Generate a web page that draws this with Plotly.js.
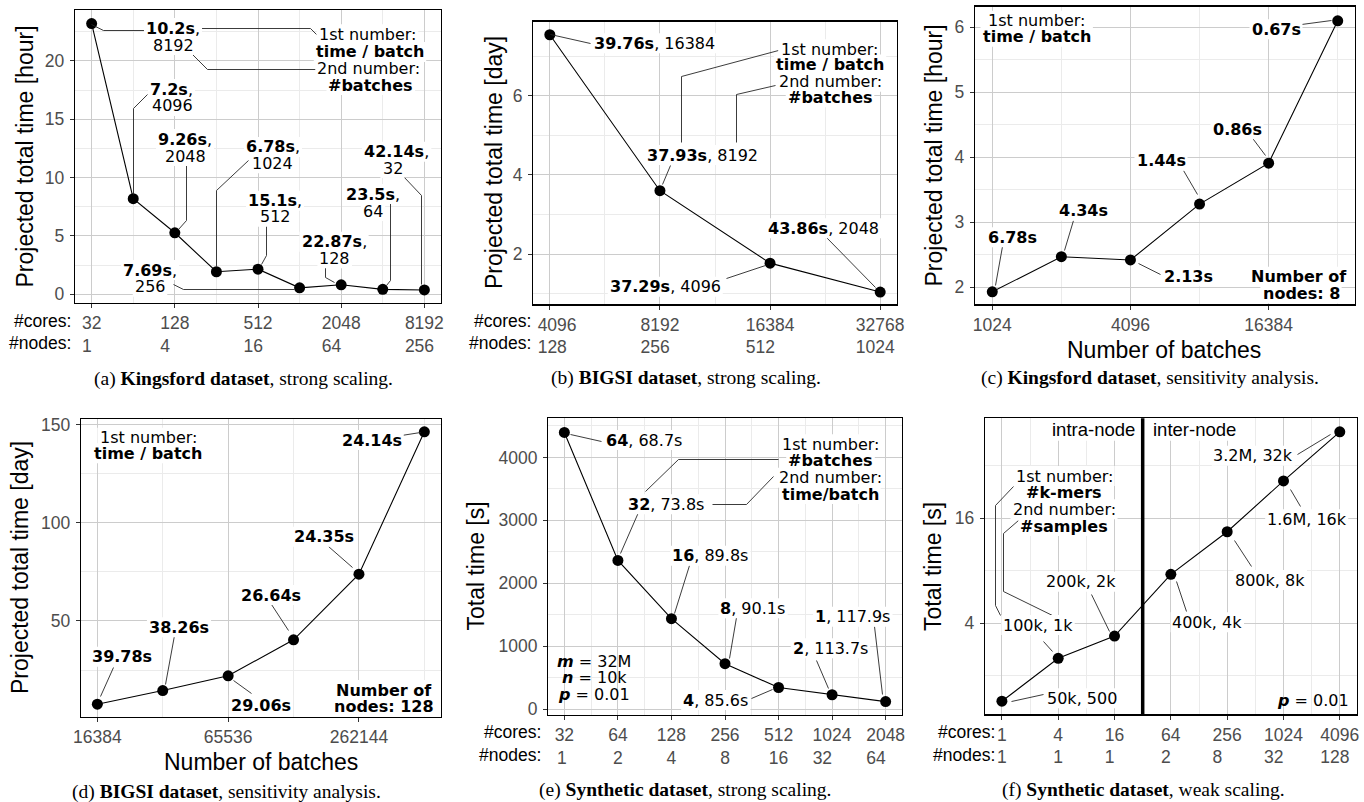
<!DOCTYPE html>
<html><head><meta charset="utf-8">
<script src="https://cdn.plot.ly/plotly-3.0.1.min.js"></script>
<style>body{margin:0;background:#fff}#chart{width:1364px;height:802px}</style>
</head><body><div id="chart"></div>
<script>
// ================= DATA =================
// (a) Kingsford dataset, strong scaling
const aCores = [32, 64, 128, 256, 512, 1024, 2048, 4096, 8192];
const aTotalHours = [23.21, 8.19, 5.27, 1.93, 2.15, 0.55, 0.81, 0.42, 0.37];
const aTimePerBatch = ['10.2s', '7.2s', '9.26s', '6.78s', '15.1s', '7.69s', '22.87s', '23.5s', '42.14s'];
const aBatches = ['8192', '4096', '2048', '1024', '512', '256', '128', '64', '32'];
const aTickCores = [32, 128, 512, 2048, 8192];
const aTickNodes = [1, 4, 16, 64, 256];

// (b) BIGSI dataset, strong scaling
const bCores = [4096, 8192, 16384, 32768];
const bTotalDays = [7.54, 3.60, 1.77, 1.04];
const bTimePerBatch = ['39.76s', '37.93s', '37.29s', '43.86s'];
const bBatches = ['16384', '8192', '4096', '2048'];
const bTickCores = [4096, 8192, 16384, 32768];
const bTickNodes = [128, 256, 512, 1024];

// (c) Kingsford dataset, sensitivity analysis
const cBatches = [1024, 2048, 4096, 8192, 16384, 32768];
const cTotalHours = [1.93, 2.47, 2.42, 3.28, 3.91, 6.10];
const cTimePerBatch = ['6.78s', '4.34s', '2.13s', '1.44s', '0.86s', '0.67s'];
const cTickBatches = [1024, 4096, 16384];
const cNodes = 8;

// (d) BIGSI dataset, sensitivity analysis
const dBatches = [16384, 32768, 65536, 131072, 262144, 524288];
const dTotalDays = [7.54, 14.51, 22.04, 40.41, 73.88, 146.5];
const dTimePerBatch = ['39.78s', '38.26s', '29.06s', '26.64s', '24.35s', '24.14s'];
const dTickBatches = [16384, 65536, 262144];
const dNodes = 128;

// (e) Synthetic dataset, strong scaling
const eCores = [32, 64, 128, 256, 512, 1024, 2048];
const eNodes = [1, 2, 4, 8, 16, 32, 64];
const eTotalSeconds = [4397, 2362, 1437, 721, 342, 227, 118];
const eBatches = ['64', '32', '16', '8', '4', '2', '1'];
const eTimePerBatch = ['68.7s', '73.8s', '89.8s', '90.1s', '85.6s', '113.7s', '117.9s'];
const eParams = [['m', '32M'], ['n', '10k'], ['p', '0.01']];

// (f) Synthetic dataset, weak scaling
const fCores = [1, 4, 16, 64, 256, 1024, 4096];
const fNodes = [1, 1, 1, 2, 8, 32, 128];
const fTotalSeconds = [1.43, 2.52, 3.38, 7.64, 13.4, 26.2, 50.1];
const fKmers = ['50k', '100k', '200k', '400k', '800k', '1.6M', '3.2M'];
const fSamples = ['500', '1k', '2k', '4k', '8k', '16k', '32k'];
const fTickSeconds = [4, 16];
const fMinorSeconds = [2, 8, 32];
const fIntraInterBoundaryCores = 32;
const fP = '0.01';

// ================= LAYOUT HELPERS =================
const W = 1364, H = 802, L2 = Math.log10(2);
const PX = x => x / W, PY = y => 1 - y / H;
const annotations = [], leaders = [], boxes = [];
const GRID = '#CCCCCC', MINOR = '#EBEBEB';
const SANS = 'Liberation Sans, Arial, sans-serif';
const DEJA = 'DejaVu Sans';
const SERIF = 'Liberation Serif, Times New Roman, serif';
const TICKFONT = {family: SANS, size: 17.5, color: '#4D4D4D'};

const ctx = document.createElement('canvas').getContext('2d');
function measure(html, size, fam) {
  const re = /<b>(<i>)?(.*?)(?:<\/i>)?<\/b>|([^<]+)/g;
  let m, w = 0;
  while ((m = re.exec(html)) !== null) {
    if (m[3] !== undefined) { ctx.font = size + 'px "' + fam + '"'; w += ctx.measureText(m[3]).width; }
    else { ctx.font = (m[1] ? 'italic ' : '') + 'bold ' + size + 'px "' + fam + '"'; w += ctx.measureText(m[2]).width; }
  }
  return w;
}
function txt(x, y, t, o = {}) {
  const size = o.size || 16, fam = o.fam || DEJA;
  annotations.push({xref: 'paper', yref: 'paper', x: PX(x), y: PY(y), text: t, showarrow: false,
    xanchor: o.xa || 'center', yanchor: 'middle', textangle: o.angle || 0, borderpad: 0,
    font: {family: fam, size: size, color: o.color || '#000'}});
  if (!o.nobg) {
    const w = measure(t, size, fam) + 4, h = size * 1.12 + 2;
    boxes.push({type: 'rect', xref: 'paper', yref: 'paper', layer: 'above',
      x0: PX(x - w / 2), x1: PX(x + w / 2), y0: PY(y + h / 2), y1: PY(y - h / 2),
      fillcolor: '#FFFFFF', line: {width: 0}});
  }
}
const snap = v => Math.floor(v) + 0.5;
function leader(pts) {
  leaders.push({type: 'path', xref: 'paper', yref: 'paper', layer: 'above',
    path: 'M' + pts.map(p => PX(snap(p[0])) + ',' + PY(snap(p[1]))).join('L'),
    line: {color: '#262626', width: 0.9}});
}

const BOX = {
  a: [75, 10, 441, 303], b: [533.3, 21.7, 896.7, 304.3], c: [975, 6.7, 1355, 304.3],
  d: [81, 419.3, 440.7, 717], e: [548.3, 418.3, 901.7, 715], f: [985, 418.3, 1356.7, 714.3]
};
const domX = b => [b[0] / W, b[2] / W];
const domY = b => [1 - b[3] / H, 1 - b[1] / H];

function axis(dom, anchor, opts, isX) {
  return Object.assign({domain: dom, anchor: anchor, showline: true, mirror: true, linecolor: '#000',
    linewidth: 1.3, ticks: 'outside', ticklen: 4, tickwidth: 1, tickcolor: '#333', tickfont: TICKFONT,
    showgrid: true, gridcolor: GRID, gridwidth: 1, zeroline: false, fixedrange: true, tickmode: 'array',
    ticklabelstandoff: isX ? 0 : 2}, opts);
}
const minor = vals => ({tickmode: 'array', tickvals: vals, showgrid: true, gridcolor: MINOR, gridwidth: 1, ticks: ''});
const pow2 = (a, b) => { const r = []; for (let k = a; k <= b; k++) r.push(Math.pow(2, k + 0.5)); return r; };
// two-line tick labels (#cores over #nodes); trailing no-break spaces left-align the node line as in the reference
const NBSP = '\u00A0';
const twoLine = (c, n, pad, pre) => c.map((v, i) =>
  (pre && pre[i] ? NBSP.repeat(pre[i]) : '') + v + '<br>' +
  (pre && pre[i] ? NBSP.repeat(pre[i]) : '') + n[i] + NBSP.repeat(pad ? pad[i] : 0));

// ================= TRACES =================
function series(x, y, xa, ya) {
  return {x: x, y: y, xaxis: xa, yaxis: ya, type: 'scatter', mode: 'lines+markers',
    line: {color: '#000', width: 1.1}, marker: {color: '#000', size: 11},
    hoverinfo: 'skip', showlegend: false, cliponaxis: false};
}
const fYRange = [0.267 * L2, 5.905 * L2];
const traces = [
  series(aCores, aTotalHours, 'x', 'y'),
  series(bCores, bTotalDays, 'x2', 'y2'),
  series(cBatches, cTotalHours, 'x3', 'y3'),
  series(dBatches, dTotalDays, 'x4', 'y4'),
  series(eCores, eTotalSeconds, 'x5', 'y5'),
  {x: [fIntraInterBoundaryCores, fIntraInterBoundaryCores], y: [Math.pow(10, fYRange[0]) * 0.8, Math.pow(10, fYRange[1]) * 1.2],
   xaxis: 'x6', yaxis: 'y6', type: 'scatter', mode: 'lines', line: {color: '#000', width: 3.5},
   hoverinfo: 'skip', showlegend: false},
  series(fCores, fTotalSeconds, 'x6', 'y6')
];

// ================= AXES =================
const layout = {
  width: W, height: H, autosize: false, margin: {l: 0, r: 0, t: 0, b: 0},
  paper_bgcolor: '#FFFFFF', plot_bgcolor: '#FFFFFF', showlegend: false,
  xaxis: axis(domX(BOX.a), 'y', {type: 'log', range: [4.6 * L2, 13.4 * L2], tickvals: aTickCores,
    ticktext: twoLine(aTickCores, aTickNodes, [2, 4, 2, 4, 2]), minor: minor([64, 256, 1024, 4096])}, true),
  yaxis: axis(domY(BOX.a), 'x', {range: [-0.75, 24.37], tickvals: [0, 5, 10, 15, 20], minor: minor([2.5, 7.5, 12.5, 17.5, 22.5])}),
  xaxis2: axis(domX(BOX.b), 'y2', {type: 'log', range: [11.85 * L2, 15.15 * L2], tickvals: bTickCores,
    ticktext: twoLine(bTickCores, bTickNodes, [2, 2, 4, 2], [3, 0, 0, 0]), minor: minor(pow2(12, 14))}, true),
  yaxis2: axis(domY(BOX.b), 'x2', {range: [0.73, 7.87], tickvals: [2, 4, 6], minor: minor([1, 3, 5, 7])}),
  xaxis3: axis(domX(BOX.c), 'y3', {type: 'log', range: [9.75 * L2, 15.25 * L2], tickvals: cTickBatches, ticktext: cTickBatches.map(String), minor: minor([2048, 8192, 32768])}, true),
  yaxis3: axis(domY(BOX.c), 'x3', {range: [1.738, 6.317], tickvals: [2, 3, 4, 5, 6], minor: minor([2.5, 3.5, 4.5, 5.5])}),
  xaxis4: axis(domX(BOX.d), 'y4', {type: 'log', range: [13.75 * L2, 19.25 * L2], tickvals: dTickBatches, ticktext: dTickBatches.map(String), minor: minor([32768, 131072, 524288])}, true),
  yaxis4: axis(domY(BOX.d), 'x4', {range: [1.02, 152.9], tickvals: [50, 100, 150], minor: minor([25, 75, 125])}),
  xaxis5: axis(domX(BOX.e), 'y5', {type: 'log', range: [4.7 * L2, 11.3 * L2], tickvals: eCores,
    ticktext: twoLine(eCores, eNodes, [1, 0, 0, 0, 0, 4, 4]), minor: minor(pow2(5, 10))}, true),
  yaxis5: axis(domY(BOX.e), 'x5', {range: [-95, 4622], tickvals: [0, 1000, 2000, 3000, 4000], minor: minor([500, 1500, 2500, 3500, 4500])}),
  xaxis6: axis(domX(BOX.f), 'y6', {type: 'log', range: [-0.6 * L2, 12.6 * L2], tickvals: fCores,
    ticktext: twoLine(fCores, fNodes, [0, 0, 2, 2, 4, 4, 2]), minor: minor([2, 8, 32, 128, 512, 2048])}, true),
  yaxis6: axis(domY(BOX.f), 'x6', {type: 'log', range: fYRange, tickvals: fTickSeconds, ticktext: fTickSeconds.map(String), minor: minor(fMinorSeconds)}),
};

// ================= TEXT: axis titles, captions, core/node headers =================
const TT = {fam: SANS, size: 23, nobg: true};
txt(25, 156.5, 'Projected total time [hour]', Object.assign({angle: -90}, TT));
txt(494, 163, 'Projected total time [day]', Object.assign({angle: -90}, TT));
txt(933, 155.5, 'Projected total time [hour]', Object.assign({angle: -90}, TT));
txt(20, 568, 'Projected total time [day]', Object.assign({angle: -90}, TT));
txt(475, 566.5, 'Total time [s]', Object.assign({angle: -90}, TT));
txt(933, 566, 'Total time [s]', Object.assign({angle: -90}, TT));
txt(1164, 350, 'Number of batches', TT);
txt(260.8, 761.7, 'Number of batches', TT);

const CAP = {fam: SERIF, size: 19.5, nobg: true};
txt(243.3, 379, '(a) <b>Kingsford dataset</b>, strong scaling.', CAP);
txt(685.8, 378.3, '(b) <b>BIGSI dataset</b>, strong scaling.', CAP);
txt(1150, 378.3, '(c) <b>Kingsford dataset</b>, sensitivity analysis.', CAP);
txt(226.7, 791.7, '(d) <b>BIGSI dataset</b>, sensitivity analysis.', CAP);
txt(685, 790, '(e) <b>Synthetic dataset</b>, strong scaling.', CAP);
txt(1143.3, 790, '(f) <b>Synthetic dataset</b>, weak scaling.', CAP);

const HDR = {fam: SANS, size: 17.5, nobg: true, xa: 'right'};
[[72, 321, 343.5], [531.7, 321, 343.5], [541.7, 732, 754.5], [996, 732, 754.5]].forEach(p => {
  txt(p[0], p[1], '#cores:', HDR); txt(p[0], p[2], '#nodes:', HDR);
});

// ================= PANEL (a) labels =================
const aLab = [[173, 28, 173, 45], [171.5, 89, 172, 106], [185, 139, 185.5, 156], [273, 147, 272.5, 163.3],
  [275, 200.7, 275, 216.7], [150, 270, 150, 286.7], [334, 241.7, 334.7, 258.3], [373, 194, 373, 211], [396.7, 151.7, 392.5, 168]];
aLab.forEach((p, i) => { txt(p[0], p[1], '<b>' + aTimePerBatch[i] + '</b>,'); txt(p[2], p[3], aBatches[i]); });
txt(367.5, 34.3, '1st number:'); txt(370, 52, '<b>time / batch</b>');
txt(368.8, 68.3, '2nd number:'); txt(370.8, 85, '<b>#batches</b>');
[
  [[91.7, 24], [103, 30.7], [146, 30.7]],
  [[200, 28.3], [310, 28.3], [316, 34]],
  [[191, 53], [207, 69], [316, 69]],
  [[133.3, 194], [133.3, 108], [147, 94]],
  [[186.7, 160], [186.7, 220], [178, 229]],
  [[248, 160], [216.7, 190], [216.7, 266]],
  [[266.7, 222], [266.7, 255], [261.7, 264]],
  [[173.3, 284.3], [183.3, 289.3], [294, 289.3]],
  [[325, 262], [325, 277.3], [334.3, 282.7]],
  [[390.7, 203], [390.7, 280], [386, 285]],
  [[403, 176], [421.7, 195], [421.7, 284]]
].forEach(l => leader(l));

// ================= PANEL (b) labels =================
const bLab = [[654, 43.3], [702, 155], [665.3, 286.7], [823.5, 228.3]];
bLab.forEach((p, i) => txt(p[0], p[1], '<b>' + bTimePerBatch[i] + '</b>, ' + bBatches[i]));
txt(829, 49.3, '1st number:'); txt(830, 64.5, '<b>time / batch</b>');
txt(830, 81.7, '2nd number:'); txt(830, 97.3, '<b>#batches</b>');
[
  [[550, 34.3], [590, 43]],
  [[778.3, 50.7], [681.7, 76], [681.7, 142]],
  [[775, 85], [736.7, 94.3], [736.7, 142]],
  [[670, 165], [662.7, 184]],
  [[826.7, 237.3], [875, 287]],
  [[726.7, 278.3], [765, 265]]
].forEach(l => leader(l));

// ================= PANEL (c) labels =================
const cLab = [[1012.5, 237.3], [1083, 210.7], [1188, 276], [1161, 160.7], [1237, 129.3], [1276, 29.3]];
cLab.forEach((p, i) => txt(p[0], p[1], '<b>' + cTimePerBatch[i] + '</b>'));
txt(1036.7, 20.7, '1st number:'); txt(1036.7, 36.7, '<b>time / batch</b>');
txt(1299, 276.7, '<b>Number of</b>'); txt(1301, 293.3, '<b>nodes: ' + cNodes + '</b>');
[
  [[1301.7, 24], [1331.7, 20.7]],
  [[1250, 135], [1265, 155]],
  [[1183.3, 170], [1197.3, 194]],
  [[1073.3, 220.7], [1064, 250]],
  [[1002.3, 246], [995, 285]],
  [[1138.3, 263.3], [1160, 274]]
].forEach(l => leader(l));

// ================= PANEL (d) labels =================
const dLab = [[122.3, 656.7], [179, 627.3], [261, 705], [270.5, 595], [323.8, 536.7], [371.7, 440]];
dLab.forEach((p, i) => txt(p[0], p[1], '<b>' + dTimePerBatch[i] + '</b>'));
txt(148, 437.7, '1st number:'); txt(148, 453.3, '<b>time / batch</b>');
txt(384.3, 690, '<b>Number of</b>'); txt(384, 706.7, '<b>nodes: ' + dNodes + '</b>');
[
  [[401.7, 435.7], [420.7, 432.3]],
  [[328.3, 546.7], [352.7, 567.7]],
  [[271.7, 604.3], [288.3, 630]],
  [[174, 635.7], [165.7, 684.3]],
  [[113.3, 667.7], [100.7, 696.7]],
  [[233.3, 680], [251.7, 693.3]]
].forEach(l => leader(l));

// ================= PANEL (e) labels =================
const eLab = [[644, 440], [666.3, 504.3], [710.3, 555.7], [753, 608.3], [715.8, 700], [830.5, 648.3], [852.8, 616.7]];
eLab.forEach((p, i) => txt(p[0], p[1], '<b>' + eBatches[i] + '</b>, ' + eTimePerBatch[i]));
txt(830, 444.3, '1st number:'); txt(830.5, 460.7, '<b>#batches</b>');
txt(830, 477.7, '2nd number:'); txt(830, 494, '<b>time/batch</b>');
[[594, 661.7], [594, 677.7], [594, 694.3]].forEach((p, i) =>
  txt(p[0], p[1], '<b><i>' + eParams[i][0] + '</i></b> = ' + eParams[i][1], {nobg: true}));
[
  [[570.7, 434.3], [601.7, 441.7]],
  [[778.3, 459], [678.3, 459], [645, 491.7]],
  [[773.3, 476.7], [746, 504.3], [712.7, 504.3]],
  [[641.7, 505], [620.7, 553.3]],
  [[689.3, 565], [674, 613.3]],
  [[736.7, 617.7], [729.3, 658.3]],
  [[874, 626.7], [882.7, 694.3]],
  [[816, 660], [828.3, 688.3]],
  [[751.7, 698.3], [772.7, 689]]
].forEach(l => leader(l));

// ================= PANEL (f) labels =================
const fLab = [[1081.7, 698.3], [1038, 625], [1081, 581.7], [1207.3, 622.3], [1270.3, 580], [1306.7, 519.3], [1253.3, 455.7]];
fLab.forEach((p, i) => txt(p[0], p[1], fKmers[i] + ', ' + fSamples[i]));
txt(1064, 476, '1st number:'); txt(1064, 492.3, '<b>#k-mers</b>');
txt(1064, 509.3, '2nd number:'); txt(1064.3, 526, '<b>#samples</b>');
txt(1093.5, 429.3, 'intra-node', {fam: 'Liberation Sans', size: 18.5});
txt(1194, 429.3, 'inter-node', {fam: 'Liberation Sans', size: 18.5});
txt(1313, 700, '<b><i>p</i></b> = ' + fP, {nobg: true});
[
  [[1297.3, 454.3], [1330.7, 434.3]],
  [[1290.7, 489], [1300.7, 506.7]],
  [[1234, 540], [1251.7, 566.7]],
  [[1176.7, 581.7], [1186.7, 611]],
  [[1091.7, 594.3], [1109.3, 631]],
  [[1043.3, 641], [1052.7, 651.7]],
  [[1011.7, 701.7], [1043.3, 694.3]],
  [[1013.3, 486.7], [995, 505], [995, 605], [1000.7, 615]],
  [[1018.3, 520], [1003.3, 533.3], [1003.3, 591.7], [1052.7, 615]]
].forEach(l => leader(l));

layout.annotations = annotations;
layout.shapes = leaders.concat(boxes);

Plotly.newPlot('chart', traces, layout, {staticPlot: true, displayModeBar: false});
</script>
</body></html>
